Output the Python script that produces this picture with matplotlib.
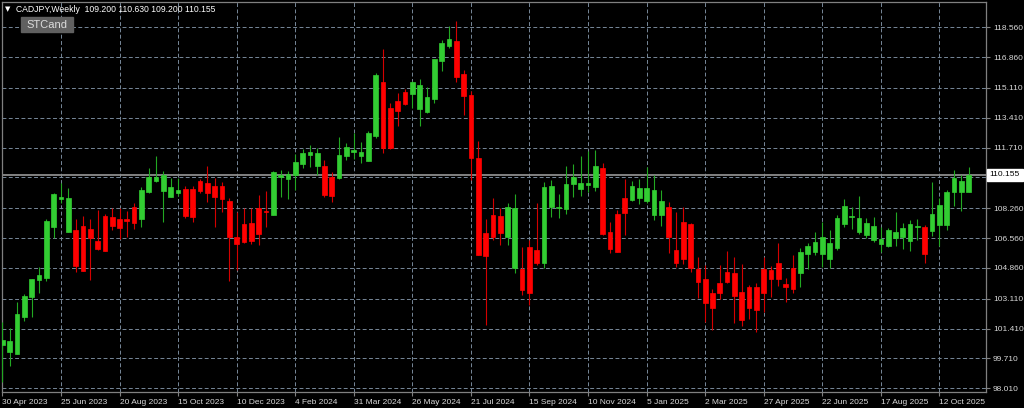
import matplotlib
matplotlib.use("Agg")
import matplotlib.pyplot as plt
from matplotlib.patches import Rectangle

# weekly CADJPY candles (first bar = 30 Apr 2023)
opens = [100.48, 100.06, 99.96, 102.05, 103.19, 104.18, 104.27, 107.21, 108.77, 106.91,
         107.00, 107.25, 107.10, 106.40, 107.84, 107.78, 107.65, 107.65, 108.33, 107.67,
         109.19, 109.83, 109.26, 108.92, 109.15, 109.36, 109.36, 109.81, 109.72, 109.54,
         109.54, 108.67, 106.61, 107.36, 107.42, 108.25, 108.12, 107.88, 110.06, 109.93,
         110.15, 110.76, 111.29, 110.68, 110.68, 110.06, 110.00, 111.24, 111.48, 111.25,
         110.97, 112.37, 115.43, 113.99, 114.38, 114.88, 114.75, 113.89, 113.76, 114.48,
         116.64, 117.51, 117.78, 115.90, 114.71, 111.12, 106.85, 107.88, 107.82, 106.64,
         104.84, 104.80, 106.07, 105.88, 105.13, 108.31, 108.26, 108.20, 109.62, 109.36,
         109.58, 109.49, 110.54, 106.89, 107.93, 108.86, 108.73, 108.83, 108.67, 107.88,
         107.88, 108.35, 105.88, 107.48, 107.36, 104.79, 104.22, 103.45, 104.02, 104.65,
         104.59, 103.51, 103.76, 103.79, 104.80, 104.75, 105.13, 103.93, 104.84, 104.56,
         105.66, 105.79, 105.66, 105.35, 106.02, 107.36, 107.75, 106.89, 106.74, 106.45,
         106.23, 106.11, 106.55, 106.64, 106.41, 107.18, 107.18, 106.97, 107.31, 107.31,
         109.20, 109.20, 109.20]
highs = [101.80, 101.44, 102.94, 103.38, 104.26, 104.91, 107.65, 109.15, 109.72, 109.40,
         107.63, 107.84, 107.67, 108.16, 107.92, 108.29, 108.26, 108.12, 108.58, 109.49,
         110.54, 111.24, 110.40, 109.97, 110.00, 109.53, 109.53, 109.91, 110.68, 109.97,
         109.77, 108.86, 108.03, 108.26, 108.30, 109.02, 109.26, 110.40, 110.44, 110.40,
         111.33, 111.63, 111.86, 111.67, 111.01, 110.34, 112.30, 111.96, 112.53, 112.05,
         112.68, 115.98, 117.31, 114.24, 114.81, 115.03, 115.52, 115.60, 115.15, 116.74,
         117.84, 118.65, 118.92, 116.13, 114.95, 112.09, 107.63, 108.83, 108.26, 108.58,
         109.07, 106.07, 106.45, 108.54, 109.77, 109.87, 109.06, 110.67, 110.78, 111.24,
         111.54, 111.58, 110.85, 107.50, 108.16, 109.91, 109.81, 109.91, 110.63, 110.15,
         109.30, 108.63, 108.06, 108.35, 107.44, 105.50, 105.03, 103.65, 105.03, 105.84,
         105.47, 105.09, 103.89, 103.99, 105.47, 104.97, 106.27, 104.27, 105.60, 105.98,
         106.30, 106.93, 107.50, 107.02, 107.88, 108.77, 108.31, 108.98, 107.69, 107.75,
         107.18, 107.12, 108.06, 107.40, 107.59, 107.65, 107.31, 109.77, 108.83, 109.30,
         110.44, 110.15, 110.63]
lows = [98.39, 99.28, 99.96, 101.86, 102.09, 103.45, 104.14, 106.55, 108.58, 106.91,
        104.64, 104.70, 104.18, 105.88, 105.84, 107.02, 106.49, 106.61, 107.10, 107.21,
        109.11, 109.77, 107.50, 108.92, 108.96, 107.69, 107.50, 109.11, 108.63, 107.21,
        108.06, 104.14, 104.75, 106.30, 106.23, 106.17, 107.21, 107.88, 108.88, 108.77,
        109.30, 110.54, 110.63, 110.15, 108.92, 108.63, 109.91, 111.01, 111.05, 110.85,
        110.97, 112.28, 111.39, 111.63, 112.94, 114.14, 113.95, 112.94, 113.67, 114.24,
        116.07, 117.40, 115.47, 113.57, 109.87, 105.60, 101.61, 106.45, 106.17, 106.17,
        104.59, 103.32, 102.75, 105.03, 104.84, 107.78, 107.69, 107.93, 108.92, 108.98,
        109.20, 109.24, 106.74, 105.70, 105.79, 106.74, 108.67, 108.50, 108.58, 107.59,
        107.25, 105.70, 104.93, 105.09, 104.63, 103.13, 101.80, 101.33, 103.08, 103.99,
        101.75, 101.56, 101.94, 101.23, 102.37, 103.23, 103.83, 102.94, 103.42, 103.79,
        104.79, 105.60, 104.93, 104.84, 105.88, 107.21, 107.06, 106.79, 106.55, 106.36,
        105.79, 106.04, 106.13, 105.92, 105.84, 106.45, 105.16, 106.68, 106.13, 107.02,
        108.39, 108.12, 109.20]
closes = [100.76, 100.70, 102.22, 103.26, 104.23, 104.46, 107.53, 109.05, 108.92, 108.86,
          105.00, 104.70, 106.55, 105.92, 105.84, 107.27, 107.15, 107.55, 107.44, 109.30,
          110.02, 110.02, 110.15, 109.49, 109.30, 107.84, 107.78, 109.24, 109.11, 108.92,
          108.77, 106.64, 106.23, 106.36, 106.37, 106.81, 108.06, 110.34, 110.15, 110.21,
          110.91, 111.39, 111.48, 111.42, 109.02, 108.96, 111.29, 111.73, 111.58, 111.48,
          112.53, 115.85, 111.71, 111.71, 113.81, 114.18, 115.43, 115.26, 114.58, 116.74,
          117.69, 117.88, 115.75, 114.67, 111.14, 105.60, 105.54, 106.64, 106.87, 108.35,
          108.26, 103.61, 103.45, 105.16, 109.49, 109.53, 108.35, 109.64, 110.06, 109.72,
          109.72, 110.68, 106.78, 105.94, 105.79, 107.97, 109.54, 109.40, 109.40, 109.30,
          108.67, 106.64, 105.13, 105.37, 104.88, 104.08, 102.88, 102.60, 103.45, 104.08,
          103.27, 101.90, 102.60, 102.47, 103.42, 104.23, 104.23, 103.79, 103.65, 105.75,
          106.11, 106.36, 106.61, 106.27, 107.69, 108.41, 107.82, 107.72, 107.40, 107.25,
          106.49, 107.02, 106.93, 107.12, 107.36, 107.25, 105.66, 107.93, 108.45, 109.20,
          109.97, 109.81, 110.155]

date_labels = ["30 Apr 2023", "25 Jun 2023", "20 Aug 2023", "15 Oct 2023", "10 Dec 2023",
               "4 Feb 2024", "31 Mar 2024", "26 May 2024", "21 Jul 2024", "15 Sep 2024",
               "10 Nov 2024", "5 Jan 2025", "2 Mar 2025", "27 Apr 2025", "22 Jun 2025",
               "17 Aug 2025", "12 Oct 2025"]
# 110.010 sits under the last-price tag, so its label is not shown
price_ticks = [98.010, 99.710, 101.410, 103.110, 104.860, 106.560, 108.260,
               110.010, 111.710, 113.410, 115.110, 116.860, 118.560]
price_labels = ["98.010", "99.710", "101.410", "103.110", "104.860", "106.560", "108.260",
                "", "111.710", "113.410", "115.110", "116.860", "118.560"]
last_price = 110.155
title = "CADJPY,Weekly  109.200 110.630 109.200 110.155"

up_body, down_body = "#32cd32", "#ff0000"
up_wick, down_wick = "#22a822", "#d40000"
fg = "#d8d8d8"
frame = "#808080"
grid = "#778899"

W, H = 1024, 408
fig = plt.figure(figsize=(W / 100, H / 100), dpi=100, facecolor="black")
ax = fig.add_axes([2 / W, 16 / H, 984 / W, 390 / H], facecolor="black")

n = len(opens)
xs = list(range(n))
is_up = [c >= o for o, c in zip(opens, closes)]
body_cols = [up_body if u else down_body for u in is_up]
wick_cols = [up_wick if u else down_wick for u in is_up]
bottoms = [min(o, c) for o, c in zip(opens, closes)]
heights = [abs(c - o) for o, c in zip(opens, closes)]

ax.vlines(xs, lows, highs, colors=wick_cols, linewidth=0.8, zorder=3)
ax.bar(xs, heights, bottom=bottoms, width=0.64, color=body_cols,
       edgecolor=body_cols, linewidth=0.5, zorder=4)

ax.axhline(last_price, color="#8c8c8c", linewidth=1.3, zorder=2)

ax.set_xlim(-0.05, 134.36)
ax.set_ylim(97.80, 120.00)

ax.set_xticks(xs[::8])
ax.set_xticklabels(date_labels)
ax.set_yticks(price_ticks)
ax.set_yticklabels(price_labels)
ax.yaxis.tick_right()

ax.grid(True, color=grid, linestyle=(0, (4, 2.5)), linewidth=0.7, zorder=1)
ax.set_axisbelow(True)
for s in ax.spines.values():
    s.set_color(frame)
    s.set_linewidth(0.9)

ax.tick_params(axis="both", colors=frame, labelcolor=fg, labelsize=6,
               length=3, width=0.8, direction="out")
ax.tick_params(axis="x", pad=2)
ax.tick_params(axis="y", pad=2)
for lab in ax.get_xticklabels():
    lab.set_horizontalalignment("left")
    lab.set_fontfamily("Liberation Sans")
for lab in ax.get_yticklabels():
    lab.set_fontfamily("Liberation Sans")

# last price tag on the price scale
ax.annotate("%.3f" % last_price, xy=(1.0, last_price), xycoords=("axes fraction", "data"),
            xytext=(2.6, 0), textcoords="offset points", ha="left", va="center",
            fontsize=6, family="Liberation Sans", color="black", annotation_clip=False,
            bbox=dict(boxstyle="square,pad=0.35", fc="white", ec="white"), zorder=10)

# header
fig.text(5 / W, 1 - 9 / H, "\u25bc", color="white", fontsize=5, va="center", ha="left")
fig.text(16 / W, 1 - 9 / H, title, color="white", fontsize=6.2,
         family="Liberation Sans", va="center", ha="left")
fig.add_artist(Rectangle((21 / W, 1 - 32 / H), 52 / W, 15 / H,
                         transform=fig.transFigure, color="#606060", zorder=5))
fig.text(47 / W, 1 - 24.5 / H, "STCand", color="#dcdcdc", fontsize=8,
         family="Liberation Sans", va="center", ha="center", zorder=6)

fig.savefig("out.png", dpi=100, facecolor="black")
